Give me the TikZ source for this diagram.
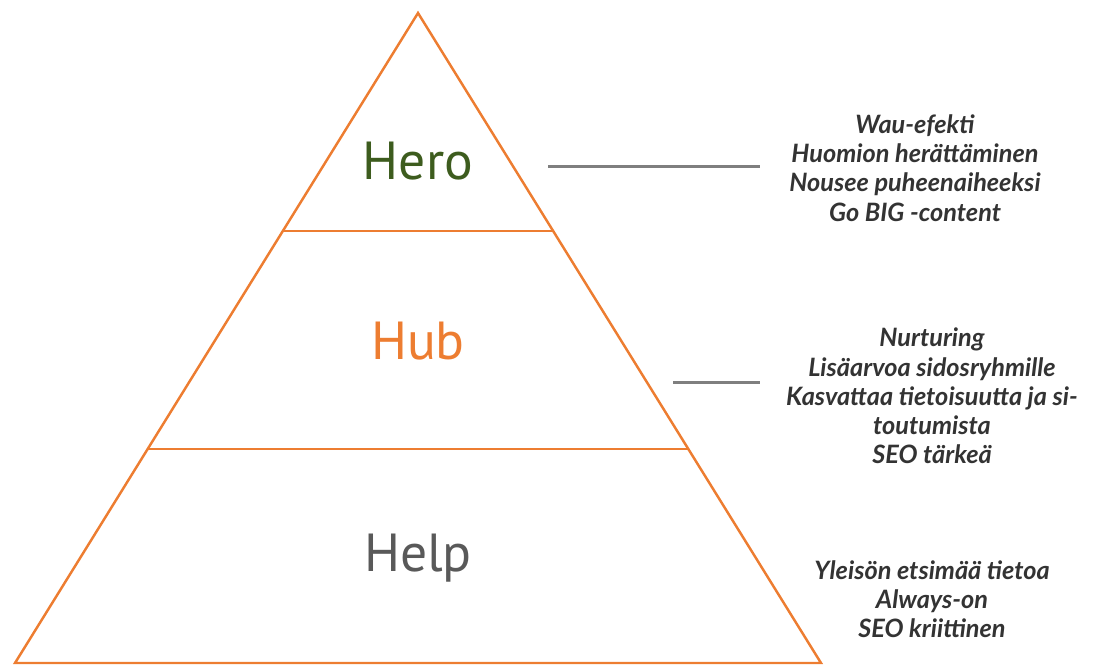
\documentclass[tikz,border=0pt]{standalone}
\usepackage{fontspec}
\usepackage{xcolor}
\usetikzlibrary{calc}

\newfontfamily\tierfont{PT Sans}
\newfontfamily\notefont{Lato}

\definecolor{pyramidorange}{HTML}{ED7D31}
\definecolor{herogreen}{HTML}{3D5C1E}
\definecolor{helpgray}{HTML}{595959}
\definecolor{notegray}{HTML}{333333}
\definecolor{linegray}{HTML}{7F7F7F}

\begin{document}
\begin{tikzpicture}[x=0.02cm, y=-0.02cm,
    edge/.style={draw=pyramidorange, line width=1.4pt},
    tier/.style={font=\tierfont\fontsize{30.5}{36}\selectfont},
    notes/.style={align=center, text=notegray, font=\notefont\bfseries\itshape\fontsize{14.4}{16.6}\selectfont},
    pointer/.style={draw=linegray, line width=1.7pt}]
    \useasboundingbox (0,0) rectangle (1096,664);

    % outline of the pyramid
    \coordinate (apex) at (418,13);
    \coordinate (baseL) at (15,663);
    \coordinate (baseR) at (821,663);
    \draw[edge] (baseL) -- (apex) -- (baseR) -- cycle;

    % tier borders
    \draw[edge] ($(apex)!0.335!(baseL)$) -- ($(apex)!0.335!(baseR)$);
    \draw[edge] ($(apex)!0.671!(baseL)$) -- ($(apex)!0.671!(baseR)$);

    \node[tier, text=herogreen] (hero) at (418,161) {Hero};
    \node[tier, text=pyramidorange] (hub) at (418,341) {Hub};
    \node[tier, text=helpgray] (help) at (418,558) {Help};

    \node[notes] (heroNotes) at (915,168) {Wau-efekti\\Huomion herättäminen\\Nousee puheenaiheeksi\\Go BIG -content};
    \node[notes] (hubNotes) at (932,396) {Nurturing\\Lisäarvoa sidosryhmille\\Kasvattaa tietoisuutta ja si-\\toutumista\\SEO tärkeä};
    \node[notes] (helpNotes) at (932,599) {Yleisön etsimää tietoa\\Always-on\\SEO kriittinen};

    \coordinate (heroTick) at (548,166);
    \coordinate (heroEnd) at (760,166);
    \coordinate (hubTick) at (673,382);
    \coordinate (hubEnd) at (760,382);
    \draw[pointer] (heroTick) -- (heroEnd);
    \draw[pointer] (hubTick) -- (hubEnd);
\end{tikzpicture}
\end{document}
